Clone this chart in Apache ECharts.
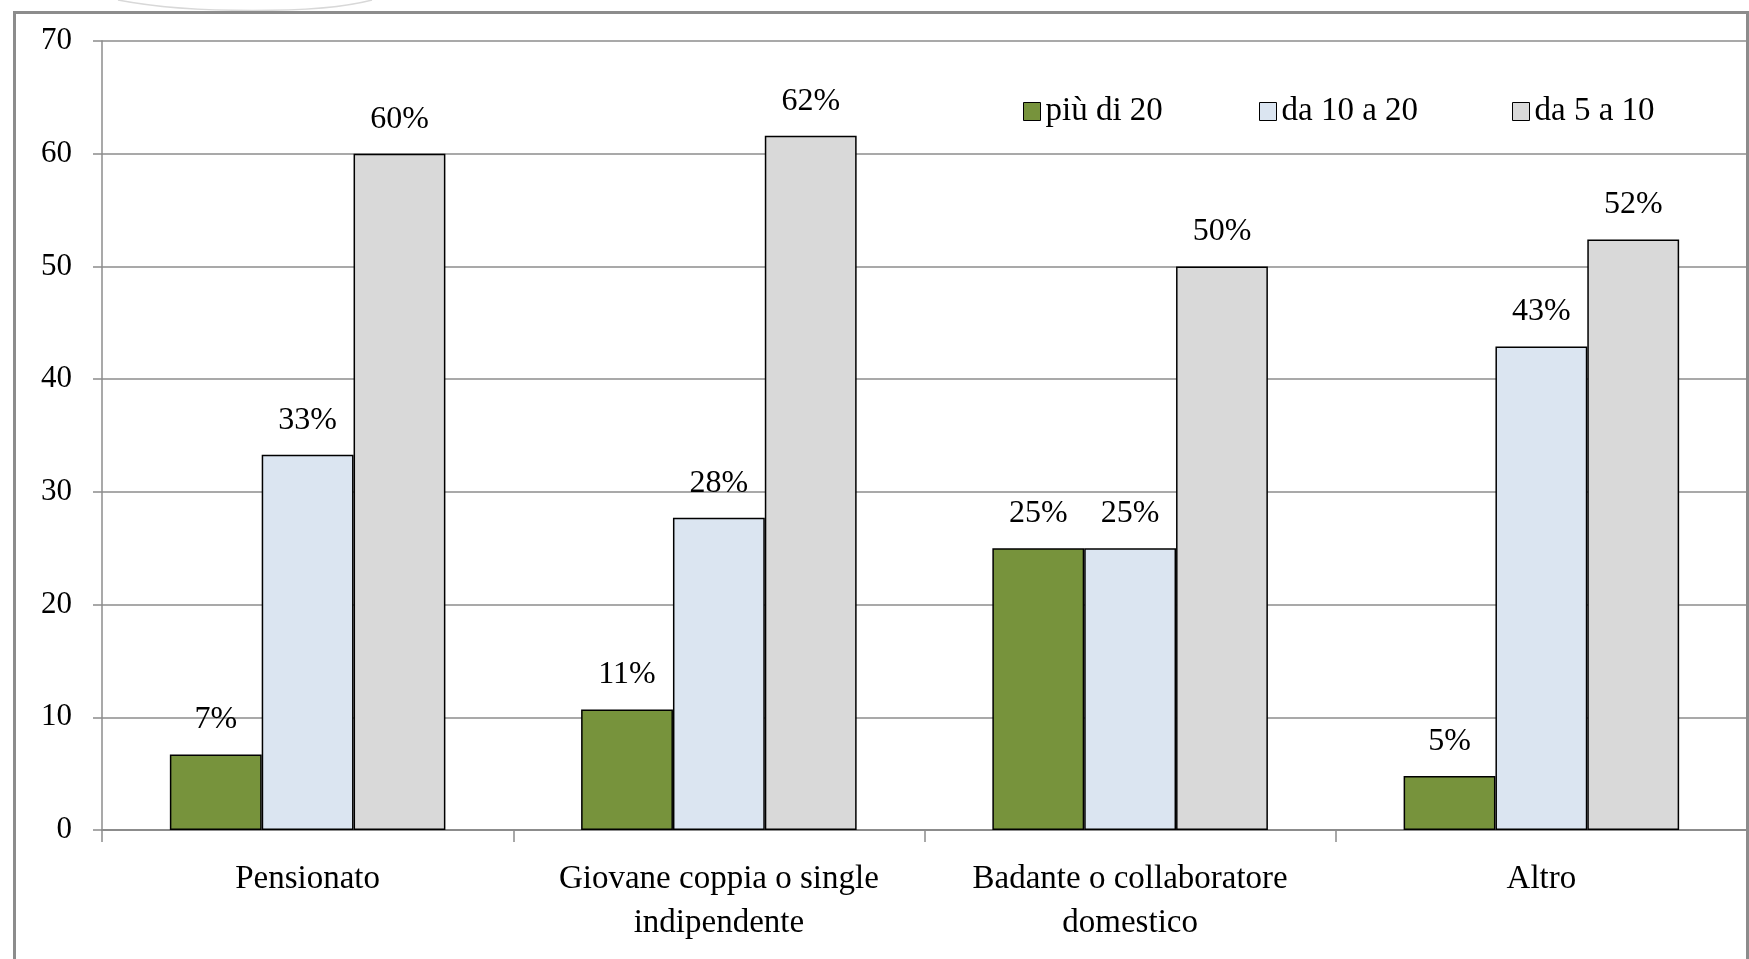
<!DOCTYPE html>
<html>
<head>
<meta charset="utf-8">
<script src="https://cdn.jsdelivr.net/npm/echarts@6/dist/echarts.min.js"></script>
<style>
  html, body { margin: 0; padding: 0; background: #fff; }
  #chart { width: 1749px; height: 959px; }
</style>
</head>
<body>
<div id="chart"></div>
<script>
// Categories of respondents
const categories = [
  'Pensionato',
  'Giovane coppia o single\nindipendente',
  'Badante o collaboratore\ndomestico',
  'Altro'
];
// Series names (years of residence)
const seriesNames = ['più di 20', 'da 10 a 20', 'da 5 a 10'];
// Percentages for each series, by category
const piuDi20 = [6.7, 10.7, 25, 4.8];
const da10a20 = [33.3, 27.7, 25, 42.9];
const da5a10 = [60, 61.6, 50, 52.4];
// Value axis ticks
const yTicks = [0, 10, 20, 30, 40, 50, 60, 70];

const colors = ['#77933c', '#dbe5f1', '#d9d9d9'];
const values = [piuDi20, da10a20, da5a10];
const FONT = '"Liberation Serif", "Times New Roman", serif';

const chart = echarts.init(document.getElementById('chart'));

const series = seriesNames.map((name, i) => ({
  name: name,
  type: 'bar',
  data: values[i],
  barGap: '0%',
  barCategoryGap: '33%',
  itemStyle: { color: colors[i], borderColor: '#000', borderWidth: 1.5 },
  label: {
    show: true,
    position: 'top',
    distance: 18,
    fontFamily: FONT,
    fontSize: 32,
    lineHeight: 33,
    color: '#000',
    formatter: p => Math.round(p.value) + '%'
  }
}));

// One legend block per series so each entry sits at its own spot
const legendLefts = [1023, 1259, 1512];
const legends = seriesNames.map((name, i) => ({
  data: [name],
  left: legendLefts[i],
  top: 95,
  orient: 'horizontal',
  icon: 'rect',
  itemWidth: 17,
  itemHeight: 18,
  itemGap: 0,
  padding: 0,
  textStyle: { fontFamily: FONT, fontSize: 33, lineHeight: 33, color: '#000' },
  itemStyle: { borderColor: '#000', borderWidth: 1 },
  selectedMode: false
}));

chart.setOption({
  animation: false,
  backgroundColor: '#fff',
  color: colors,
  legend: legends,
  grid: { left: 102, right: 2, top: 41, bottom: 129, containLabel: false },
  xAxis: {
    type: 'category',
    data: categories,
    axisLine: { show: true, lineStyle: { color: '#8c8c8c', width: 2 } },
    axisTick: { show: true, length: 12, lineStyle: { color: '#8c8c8c', width: 1.5 } },
    axisLabel: {
      fontFamily: FONT,
      fontSize: 33,
      lineHeight: 44,
      color: '#000',
      margin: 27,
      interval: 0
    }
  },
  yAxis: {
    type: 'value',
    min: yTicks[0],
    max: yTicks[yTicks.length - 1],
    interval: yTicks[1] - yTicks[0],
    axisLine: { show: true, lineStyle: { color: '#8c8c8c', width: 1.5 } },
    axisTick: { show: true, length: 9, lineStyle: { color: '#8c8c8c', width: 1.5 } },
    splitLine: { show: true, lineStyle: { color: '#8c8c8c', width: 1.5 } },
    axisLabel: {
      fontFamily: FONT,
      fontSize: 31,
      color: '#000',
      margin: 30
    }
  },
  graphic: [
    {
      // outer frame of the chart area
      type: 'rect',
      silent: true,
      z: 100,
      shape: { x: 14.5, y: 12.5, width: 1733, height: 1000 },
      style: { fill: 'none', stroke: '#8c8c8c', lineWidth: 3 }
    },
    {
      // faint decorative curve above the frame
      type: 'bezierCurve',
      silent: true,
      z: 99,
      shape: { x1: 118, y1: 0, x2: 372, y2: 0, cpx1: 190, cpy1: 14, cpx2: 320, cpy2: 14 },
      style: { fill: 'none', stroke: '#d8d8d8', lineWidth: 1.5 }
    }
  ],
  series: series
});
</script>
</body>
</html>
